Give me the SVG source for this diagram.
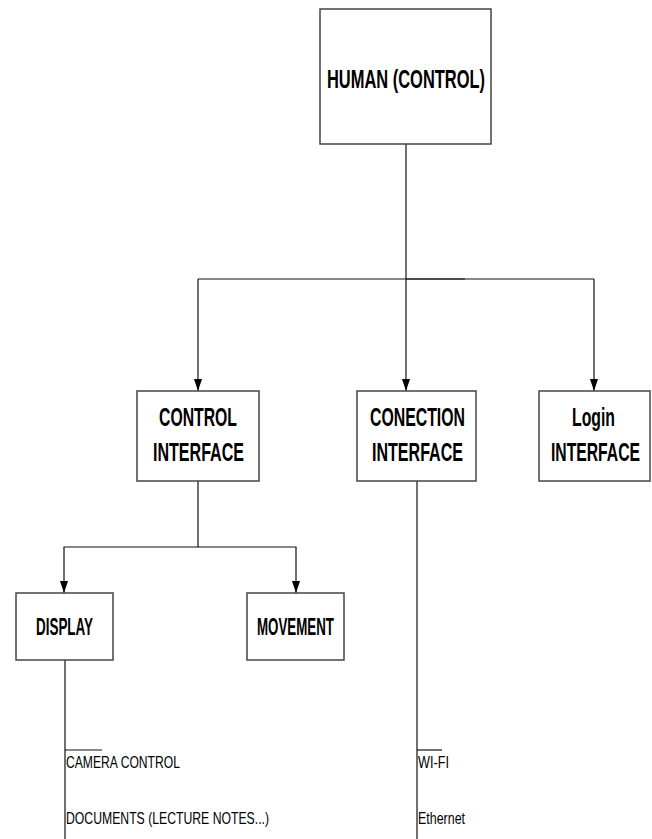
<svg xmlns="http://www.w3.org/2000/svg" width="652" height="839" viewBox="0 0 652 839">
<style>
.box{fill:#fff;stroke:#444;stroke-width:1.5}
.ln{fill:none;stroke:#111;stroke-width:1.2}
.lbl{font-family:"Liberation Sans Narrow","Liberation Sans",Arial,sans-serif;font-weight:bold;font-size:26px;fill:#000}
.sm{font-family:"Liberation Sans Narrow","Liberation Sans",Arial,sans-serif;font-size:17px;fill:#000}
</style>
<defs>
<marker id="ah" markerUnits="userSpaceOnUse" markerWidth="8" markerHeight="12" refX="4" refY="12" orient="0" viewBox="0 0 8 12">
<path d="M0,0 L8,0 L4,12 z" fill="#000"/>
</marker>
</defs>
<rect width="652" height="839" fill="#fff"/>
<g id="connectors">
<path class="ln" d="M406,144 V279"/>
<path class="ln" d="M198,279 H594"/>
<path class="ln" d="M406,279 H465" stroke-width="2"/>
<path class="ln" d="M198,279 V391" marker-end="url(#ah)"/>
<path class="ln" d="M406,279 V391" marker-end="url(#ah)"/>
<path class="ln" d="M594,279 V391" marker-end="url(#ah)"/>
<path class="ln" d="M198,481 V547 H64 V593" marker-end="url(#ah)"/>
<path class="ln" d="M198,547 H296 V593" marker-end="url(#ah)"/>
<path class="ln" d="M65,660 V839"/>
<path class="ln" d="M65,750 H102"/>
<path class="ln" d="M417,481 V839"/>
<path class="ln" d="M417,750 H442"/>
</g>
<g id="human">
<rect class="box" x="320" y="9" width="171" height="135"/>
<text class="lbl" x="327" y="88" textLength="158" lengthAdjust="spacingAndGlyphs">HUMAN (CONTROL)</text>
</g>
<g id="control-interface">
<rect class="box" x="137" y="391" width="122" height="90"/>
<text class="lbl" x="159" y="426" textLength="78" lengthAdjust="spacingAndGlyphs">CONTROL</text>
<text class="lbl" x="153" y="461" textLength="91" lengthAdjust="spacingAndGlyphs">INTERFACE</text>
</g>
<g id="conection-interface">
<rect class="box" x="357" y="391" width="119" height="90"/>
<text class="lbl" x="370" y="426" textLength="95" lengthAdjust="spacingAndGlyphs">CONECTION</text>
<text class="lbl" x="372" y="461" textLength="91" lengthAdjust="spacingAndGlyphs">INTERFACE</text>
</g>
<g id="login-interface">
<rect class="box" x="539" y="391" width="111" height="90"/>
<text class="lbl" x="572" y="426" textLength="43" lengthAdjust="spacingAndGlyphs">Login</text>
<text class="lbl" x="551" y="461" textLength="89" lengthAdjust="spacingAndGlyphs">INTERFACE</text>
</g>
<g id="display">
<rect class="box" x="16" y="593" width="97" height="67"/>
<text class="lbl" x="36" y="635" textLength="57" lengthAdjust="spacingAndGlyphs" style="font-size:23px">DISPLAY</text>
</g>
<g id="movement">
<rect class="box" x="247" y="593" width="97" height="67"/>
<text class="lbl" x="257" y="635" textLength="77" lengthAdjust="spacingAndGlyphs" style="font-size:23px">MOVEMENT</text>
</g>
<g id="display-items">
<text class="sm" x="66" y="768" textLength="114" lengthAdjust="spacingAndGlyphs">CAMERA CONTROL</text>
<text class="sm" x="66" y="824" textLength="203" lengthAdjust="spacingAndGlyphs">DOCUMENTS (LECTURE NOTES...)</text>
</g>
<g id="conection-items">
<text class="sm" x="418" y="768" textLength="31" lengthAdjust="spacingAndGlyphs">WI-FI</text>
<text class="sm" x="418" y="824" textLength="47" lengthAdjust="spacingAndGlyphs">Ethernet</text>
</g>
</svg>
